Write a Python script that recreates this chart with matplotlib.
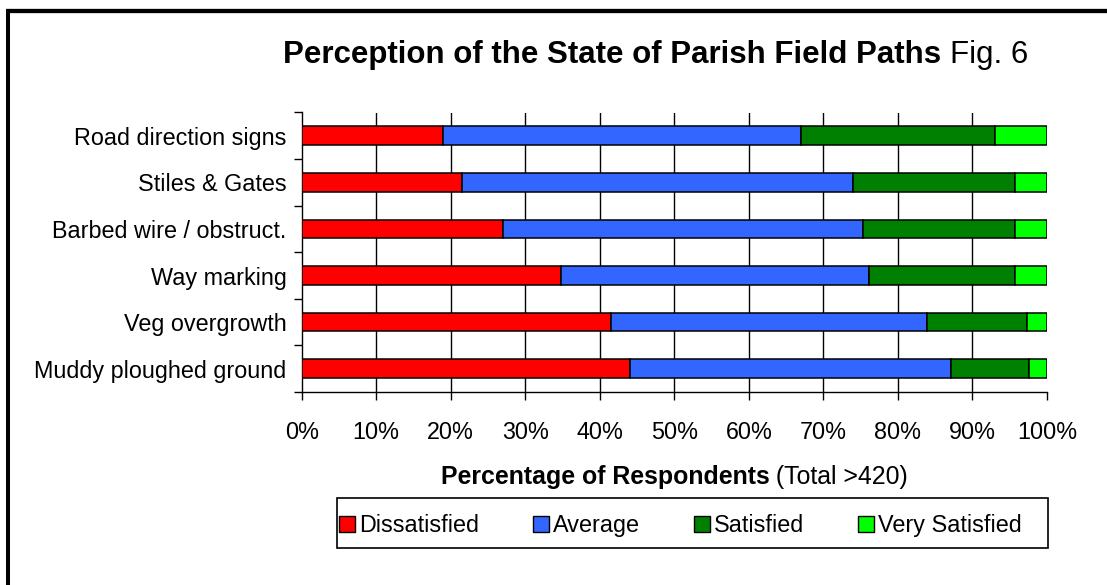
import matplotlib
matplotlib.use("Agg")
import matplotlib.pyplot as plt
from matplotlib.patches import Rectangle
from matplotlib.lines import Line2D
import numpy as np

# ---- data ----
categories = ["Road direction signs", "Stiles & Gates", "Barbed wire / obstruct.",
              "Way marking", "Veg overgrowth", "Muddy ploughed ground"]
dissatisfied = [19.0, 21.5, 27.0, 34.8, 41.5, 44.0]
average = [48.0, 52.5, 48.3, 41.3, 42.4, 43.1]
satisfied = [26.0, 21.7, 20.4, 19.6, 13.4, 10.5]
very_satisfied = [7.0, 4.3, 4.3, 4.3, 2.7, 2.4]
series_names = ["Dissatisfied", "Average", "Satisfied", "Very Satisfied"]
series_colors = ["#FF0000", "#3366FF", "#008000", "#00FF00"]
x_ticks = [0, 10, 20, 30, 40, 50, 60, 70, 80, 90, 100]
x_tick_labels = [f"{t}%" for t in x_ticks]
title_main = "Perception of the State of Parish Field Paths"
title_fig = "Fig. 6"
xlabel_bold = "Percentage of Respondents"
xlabel_normal = " (Total >420)"

plt.rcParams['font.family'] = ['Liberation Sans', 'DejaVu Sans']

W, H = 1107, 585
fig = plt.figure(figsize=(W / 100, H / 100), dpi=100)
fig.patch.set_facecolor("white")


def fx(px):
    return px / W


def fy(py):
    return 1 - py / H


ax_l, ax_r, ax_t, ax_b = 301.7, 1047.0, 112.5, 392.0
ax = fig.add_axes([fx(ax_l), fy(ax_b), (ax_r - ax_l) / W, (ax_b - ax_t) / H])

FS = 16.8
TFS = 22.5
y = np.arange(len(categories))
series = [dissatisfied, average, satisfied, very_satisfied]
left = np.zeros(len(categories))
handles = []
for vals, name, col in zip(series, series_names, series_colors):
    ax.barh(y, vals, left=left, height=0.4, color=col, edgecolor="black",
            linewidth=1.1, zorder=3, label=name)
    left = left + np.array(vals)
    handles.append(Rectangle((0, 0), 1, 1, facecolor=col, edgecolor="black", linewidth=1.0))

ax.set_xlim(0, 100)
ax.set_ylim(len(categories) - 0.5, -0.5)

ax.set_xticks(x_ticks)
ax.set_xticklabels(x_tick_labels, fontsize=FS)
ax.tick_params(axis="x", direction="out", length=5.8, width=1.0, pad=15.4, colors="black")

ax.set_yticks(y)
ax.set_yticklabels(categories, fontsize=FS)
ax.tick_params(axis="y", which="major", length=0, pad=11.0)
ax.set_yticks(np.arange(-0.5, len(categories), 1.0), minor=True)
ax.tick_params(axis="y", which="minor", direction="out", length=6, width=1.0)

ax.xaxis.grid(True, color="black", linewidth=1.0, zorder=1)
ax.set_axisbelow(True)
for s in ["top", "right"]:
    ax.spines[s].set_visible(False)
for s in ["left", "bottom"]:
    ax.spines[s].set_linewidth(1.0)
    ax.spines[s].set_color("black")

# hide gridlines at 0% and 100%
gl = ax.get_xgridlines()
gl[-1].set_visible(False)
gl[0].set_visible(False)

# ---- titles ----
t1 = fig.text(fx(283), fy(63), title_main, fontsize=TFS, fontweight="bold",
              ha="left", va="baseline")
fig.canvas.draw()
r = fig.canvas.get_renderer()
bb = t1.get_window_extent(r)
space_px = 0.278 * TFS * 100 / 72
fig.text(bb.x1 / W + space_px / W, fy(63), title_fig, fontsize=TFS,
         ha="left", va="baseline")

# x label as bold + normal, centred on axes
XFS = 17.9
xb = fig.text(0, fy(484), xlabel_bold, fontsize=XFS, fontweight="bold",
              ha="left", va="baseline")
xn = fig.text(0, fy(484), xlabel_normal, fontsize=XFS, ha="left", va="baseline")
fig.canvas.draw()
wb = xb.get_window_extent(r).width
wn = xn.get_window_extent(r).width
cx = (ax_l + ax_r) / 2
start = cx - (wb + wn) / 2
xb.set_x(fx(start))
xn.set_x(fx(start + wb))

# ---- legend ----
leg = fig.legend(handles, series_names, loc="lower left", bbox_to_anchor=(0, 0),
                 ncol=4, frameon=False, borderpad=0, fontsize=FS,
                 handlelength=0.7, handleheight=0.7, handletextpad=0.17,
                 columnspacing=2.3, borderaxespad=0)
fig.canvas.draw()
hb = leg.legend_handles[0].get_window_extent(r)
dx = 339 - hb.x0
dy = (H - 532) - hb.y0
leg.set_bbox_to_anchor((dx / W, dy / H))

fig.add_artist(Rectangle((fx(337), fy(548)), (1048 - 337) / W, (548 - 498) / H,
                         transform=fig.transFigure, facecolor="none",
                         edgecolor="black", linewidth=1.2))

# ---- outer border (top and left visible) ----
fig.add_artist(Line2D([fx(8), fx(8)], [fy(8.5), 0], transform=fig.transFigure,
                      color="black", linewidth=2.9, solid_capstyle="butt"))
fig.add_artist(Line2D([fx(6), 1], [fy(10.5), fy(10.5)], transform=fig.transFigure,
                      color="black", linewidth=3.1, solid_capstyle="butt"))

fig.savefig("out.png", dpi=100)
